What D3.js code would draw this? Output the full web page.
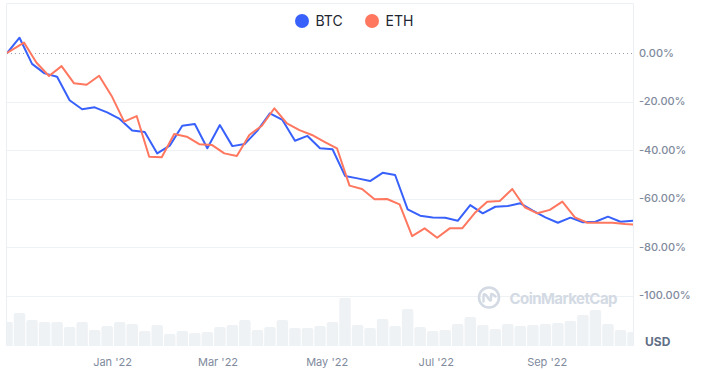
<!DOCTYPE html>
<html>
<head>
<meta charset="utf-8">
<script src="https://cdn.jsdelivr.net/npm/d3@7"></script>
<style>
	html, body { margin: 0; padding: 0; background: #fff; }
	svg { display: block; font-family: Inter, "Noto Sans", sans-serif; }
</style>
</head>
<body>
<div id="chart"></div>
<script>
// weekly dates of the BTC points
const dates = [
	"2021-11-03", "2021-11-10", "2021-11-17", "2021-11-24", "2021-12-01", "2021-12-08", "2021-12-15",
	"2021-12-22", "2021-12-29", "2022-01-05", "2022-01-12", "2022-01-19", "2022-01-26", "2022-02-02",
	"2022-02-09", "2022-02-16", "2022-02-23", "2022-03-02", "2022-03-09", "2022-03-16", "2022-03-23",
	"2022-03-30", "2022-04-06", "2022-04-13", "2022-04-20", "2022-04-27", "2022-05-04", "2022-05-11",
	"2022-05-18", "2022-05-25", "2022-06-01", "2022-06-08", "2022-06-15", "2022-06-22", "2022-06-29",
	"2022-07-06", "2022-07-13", "2022-07-20", "2022-07-27", "2022-08-03", "2022-08-10", "2022-08-17",
	"2022-08-24", "2022-08-31", "2022-09-07", "2022-09-14", "2022-09-21", "2022-09-28", "2022-10-05",
	"2022-10-12", "2022-10-19"
];

// % change since start
const btc = [
	0, 6.3, -4.5, -8.4, -9.8, -19.5, -23.2, -22.4, -24.5, -27.2,
	-32.0, -32.6, -41.4, -38.2, -30.0, -29.3, -39.3, -29.7, -38.4, -37.5,
	-32.0, -24.9, -27.6, -36.2, -34.2, -39.3, -39.7, -50.7, -51.7, -52.8,
	-49.4, -50.3, -64.5, -67.1, -67.8, -67.9, -69.2, -62.7, -66.1, -63.4,
	-63.1, -62.0, -65.0, -67.8, -70.0, -67.9, -69.8, -69.6, -67.5, -69.6,
	-69.2
];
const eth = [
	0, 4.3, -4.0, -9.5, -5.4, -12.5, -13.1, -9.4, -17.7, -28.3,
	-26.0, -42.8, -43.0, -33.4, -34.5, -37.6, -37.9, -41.4, -42.5, -33.8,
	-30.0, -22.8, -29.0, -31.8, -33.8, -36.6, -39.3, -54.7, -56.1, -60.3,
	-60.2, -62.4, -75.5, -72.3, -76.2, -72.3, -72.3, -66.0, -61.3, -61.0,
	-56.1, -63.6, -66.1, -64.7, -61.3, -67.8, -70.0, -70.0, -70.0, -70.5,
	-70.8
];
// ETH samples sit a little later than BTC ones (hours)
const ethOffsetHours = 60;

// volume bars (relative units)
const volume = [
	24, 33, 26, 24, 24, 19, 24, 16, 20, 24,
	22, 15, 21, 12, 15, 13, 14, 19, 21, 26,
	16, 19, 26, 18, 18, 20, 24, 48, 21, 18,
	27, 20, 37, 19, 15, 16, 22, 29, 21, 17,
	22, 20, 21, 22, 23, 25, 31, 36, 22, 16,
	14
];

const seriesNames = ["BTC", "ETH"];
const seriesColors = ["#3861fb", "#ff775f"];
const yTicks = [0, -20, -40, -60, -80, -100];
const xTicks = ["2022-01-01", "2022-03-01", "2022-05-01", "2022-07-01", "2022-09-01"];

//chart constants
let W = 701, H = 370;
let plotLeft = 7, plotRight = 633, plotTop = 3.5, plotBottom = 346;

let parseDate = d3.timeParse("%Y-%m-%d");
let days = dates.map(parseDate);

let svg = d3.select("#chart")
	.append("svg")
	.attr("width", W)
	.attr("height", H);

//scales
let x = d3.scaleTime()
	.domain([days[0], days[days.length - 1]])
	.range([plotLeft, plotRight]);
let y = d3.scaleLinear()
	.domain([0, -100])
	.range([53, 295.5]);
let v = d3.scaleLinear()
	.domain([0, 50])
	.range([plotBottom, plotBottom - 50]);

svg.append("clipPath")
	.attr("id", "plot-clip")
	.append("rect")
	.attr("x", plotLeft)
	.attr("y", plotTop)
	.attr("width", plotRight - plotLeft)
	.attr("height", plotBottom - plotTop);

//frame
svg.append("path")
	.attr("d", "M" + (plotLeft - 0.5) + "," + plotBottom + "V" + plotTop + "H" + (plotRight + 0.5) + "V" + plotBottom)
	.attr("fill", "none")
	.attr("stroke", "#eceff3")
	.attr("stroke-width", 1);

//volume bars
let barWidth = function(i) { return x(d3.timeDay.offset(days[i], 7)) - x(days[i]) - 1; };
let plot = svg.append("g").attr("clip-path", "url(#plot-clip)");
plot.selectAll(".bar")
	.data(volume)
	.enter()
	.append("rect")
	.attr("class", "bar")
	.attr("x", function(d, i) { return x(days[i]) - barWidth(i) / 2; })
	.attr("width", function(d, i) { return barWidth(i); })
	.attr("y", function(d) { return v(d); })
	.attr("height", function(d) { return plotBottom - v(d) + 3; })
	.attr("rx", 2)
	.style("fill", "#eff2f5");

//grid lines
svg.append("g")
	.selectAll("line")
	.data(yTicks)
	.enter()
	.append("line")
	.attr("x1", plotLeft)
	.attr("x2", plotRight)
	.attr("y1", function(d) { return Math.round(y(d)) + 0.5; })
	.attr("y2", function(d) { return Math.round(y(d)) + 0.5; })
	.attr("stroke", function(d) { return d === 0 ? "#98a1b0" : "#eff2f5"; })
	.attr("stroke-width", 1)
	.attr("stroke-dasharray", function(d) { return d === 0 ? "1,3" : null; });

//y labels
svg.append("g")
	.selectAll("text")
	.data(yTicks)
	.enter()
	.append("text")
	.attr("x", 639)
	.attr("y", function(d) { return y(d); })
	.attr("dy", "0.35em")
	.style("font-size", "11px")
	.style("font-weight", 500)
	.style("fill", "#808a9d")
	.text(function(d) { return d.toFixed(2) + "%"; });

svg.append("text")
	.attr("x", 645)
	.attr("y", 346)
	.style("font-size", "12px")
	.style("font-weight", 700)
	.style("fill", "#616e85")
	.text("USD");

//x labels
let fmt = d3.timeFormat("%b '%y");
svg.append("g")
	.selectAll("text")
	.data(xTicks.map(parseDate))
	.enter()
	.append("text")
	.attr("x", function(d) { return x(d); })
	.attr("y", 362)
	.attr("dy", "0.35em")
	.attr("text-anchor", "middle")
	.style("font-size", "11px")
	.style("fill", "#808a9d")
	.text(function(d) { return fmt(d); });

//watermark
let mark = svg.append("g")
	.attr("transform", "translate(489,297.5)");
mark.append("circle")
	.attr("r", 10)
	.attr("fill", "none")
	.attr("stroke", "#d3dae4")
	.attr("stroke-width", 2.6);
mark.append("path")
	.attr("d", "M-5.5,4 L-5.5,-2 Q-5.5,-4.5 -3,-2.5 L0.5,2.5 Q2,4 2,2 L2,-2.5 Q2,-4.5 4,-3 L6.5,-1")
	.attr("fill", "none")
	.attr("stroke", "#d3dae4")
	.attr("stroke-width", 2.4)
	.attr("stroke-linecap", "round")
	.attr("stroke-linejoin", "round");
svg.append("text")
	.attr("x", 509.5)
	.attr("y", 304)
	.attr("textLength", 108)
	.style("font-size", "15px")
	.style("font-weight", 700)
	.style("fill", "#d3dae4")
	.text("CoinMarketCap");

//lines
let lineBtc = d3.line()
	.x(function(d, i) { return x(days[i]); })
	.y(function(d) { return y(d); });
let lineEth = d3.line()
	.x(function(d, i) { return i === 0 ? x(days[0]) : x(d3.timeHour.offset(days[i], ethOffsetHours)); })
	.y(function(d) { return y(d); });

let lines = svg.append("g").attr("clip-path", "url(#plot-clip)");
lines.append("path")
	.datum(btc)
	.attr("d", lineBtc)
	.attr("fill", "none")
	.attr("stroke", seriesColors[0])
	.attr("stroke-width", 2)
	.attr("stroke-linejoin", "round");
lines.append("path")
	.datum(eth)
	.attr("d", lineEth)
	.attr("fill", "none")
	.attr("stroke", seriesColors[1])
	.attr("stroke-width", 2)
	.attr("stroke-linejoin", "round");

//legend
let legend = svg.append("g")
	.selectAll("g")
	.data(seriesNames)
	.enter()
	.append("g")
	.attr("transform", function(d, i) { return "translate(" + (302 + i * 70) + ",21)"; });
legend.append("circle")
	.attr("r", 7)
	.style("fill", function(d, i) { return seriesColors[i]; });
legend.append("text")
	.attr("x", 13.5)
	.attr("dy", "0.36em")
	.style("font-size", "14px")
	.style("fill", "#222531")
	.text(function(d) { return d; });
</script>
</body>
</html>
